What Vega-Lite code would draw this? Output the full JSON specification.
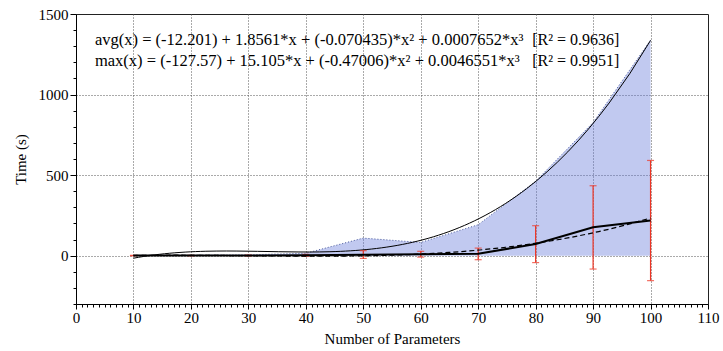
{
  "$schema": "https://vega.github.io/schema/vega-lite/v6.json",
  "width": 632,
  "height": 290,
  "autosize": "none",
  "padding": {"left": 76, "top": 14, "right": 15, "bottom": 47},
  "background": "white",
  "config": {
    "view": {"stroke": "#222", "strokeWidth": 1},
    "font": "Liberation Serif",
    "axis": {
      "labelFont": "Liberation Serif",
      "titleFont": "Liberation Serif",
      "labelFontSize": 15,
      "titleFontSize": 15,
      "labelColor": "black",
      "titleColor": "black",
      "titleFontWeight": "normal",
      "domainColor": "black",
      "tickColor": "black",
      "gridColor": "#555",
      "gridDash": [1, 2],
      "gridWidth": 1,
      "labelOverlap": false,
      "labelBound": false,
      "labelFlush": false
    }
  },
  "data": {
    "values": [
      {"params": 10, "avg": 0.3, "lo": -1, "hi": 2, "max": 2},
      {"params": 20, "avg": 0.5, "lo": -1.5, "hi": 2.5, "max": 3},
      {"params": 30, "avg": 1, "lo": -2, "hi": 4, "max": 5},
      {"params": 40, "avg": 2, "lo": -4, "hi": 8, "max": 15},
      {"params": 50, "avg": 5, "lo": -17, "hi": 31, "max": 109},
      {"params": 60, "avg": 9, "lo": -9, "hi": 27, "max": 82},
      {"params": 70, "avg": 12, "lo": -25, "hi": 47, "max": 192},
      {"params": 80, "avg": 72, "lo": -43, "hi": 186, "max": 462},
      {"params": 90, "avg": 176, "lo": -83, "hi": 434, "max": 826},
      {"params": 100, "avg": 218, "lo": -155, "hi": 591, "max": 1338}
    ]
  },
  "encoding": {
    "x": {
      "field": "params",
      "type": "quantitative",
      "scale": {"domain": [0, 110], "nice": false},
      "axis": {
        "title": "Number of Parameters",
        "titleY": 34,
        "titleBaseline": "middle",
        "values": [0,1,2,3,4,5,6,7,8,9,10,11,12,13,14,15,16,17,18,19,20,21,22,23,24,25,26,27,28,29,30,31,32,33,34,35,36,37,38,39,40,41,42,43,44,45,46,47,48,49,50,51,52,53,54,55,56,57,58,59,60,61,62,63,64,65,66,67,68,69,70,71,72,73,74,75,76,77,78,79,80,81,82,83,84,85,86,87,88,89,90,91,92,93,94,95,96,97,98,99,100,101,102,103,104,105,106,107,108,109,110],
        "labelExpr": "datum.value % 10 === 0 ? datum.label : ''",
        "labelOverlap": false,
        "tickSize": {"condition": {"test": "datum.value % 10 === 0", "value": 5}, "value": 3},
        "labelPadding": 1,
        "gridOpacity": {"condition": {"test": "datum.value % 10 === 0 && datum.value > 0 && datum.value < 110", "value": 1}, "value": 0}
      }
    },
    "y": {
      "field": "v",
      "type": "quantitative",
      "scale": {"domain": [-300, 1500], "nice": false, "zero": false},
      "axis": {
        "title": "Time (s)",
        "titleX": -56,
        "titleBaseline": "middle",
        "values": [-300,-200,-100,0,100,200,300,400,500,600,700,800,900,1000,1100,1200,1300,1400,1500],
        "format": "d",
        "labelOverlap": false,
        "labelExpr": "datum.value % 500 === 0 && datum.value >= 0 ? datum.label : ''",
        "tickSize": {"condition": {"test": "datum.value % 500 === 0", "value": 6}, "value": 3},
        "labelPadding": 2,
        "gridOpacity": {"condition": {"test": "datum.value % 500 === 0 && datum.value > -300 && datum.value < 1500", "value": 1}, "value": 0}
      }
    }
  },
  "layer": [
    {
      "transform": [{"fold": ["max"], "as": ["series", "v"]}],
      "mark": {"type": "area", "color": "#6478d9", "opacity": 0.4},
      "encoding": {"y2": {"datum": 0}}
    },
    {
      "transform": [{"fold": ["max"], "as": ["series", "v"]}],
      "mark": {"type": "line", "color": "#4a5a9a", "strokeWidth": 1, "strokeDash": [1, 2]}
    },
    {
      "transform": [
        {"fold": ["max"], "as": ["series", "v"]},
        {"regression": "v", "on": "params", "method": "poly", "order": 3, "extent": [10, 100]}
      ],
      "mark": {"type": "line", "color": "black", "strokeWidth": 1}
    },
    {
      "transform": [{"fold": ["lo"], "as": ["series", "v"]}],
      "mark": {"type": "rule", "color": "#ee3322", "strokeWidth": 1.2},
      "encoding": {"y2": {"field": "hi"}}
    },
    {
      "transform": [{"fold": ["lo", "hi"], "as": ["series", "v"]}],
      "mark": {"type": "tick", "orient": "horizontal", "color": "#ee3322", "thickness": 1.2, "size": 7}
    },
    {
      "transform": [{"fold": ["avg"], "as": ["series", "v"]}],
      "mark": {"type": "line", "color": "black", "strokeWidth": 2}
    },
    {
      "transform": [
        {"fold": ["avg"], "as": ["series", "v"]},
        {"regression": "v", "on": "params", "method": "poly", "order": 3, "extent": [10, 100]}
      ],
      "mark": {"type": "line", "color": "black", "strokeWidth": 1.2, "strokeDash": [5, 3]}
    },
    {
      "transform": [
        {"fold": ["avg"], "as": ["series", "v"]},
        {"filter": "datum.params == 10"}
      ],
      "mark": {
        "type": "text",
        "align": "left",
        "baseline": "middle",
        "font": "Liberation Serif",
        "fontSize": 16.5,
        "lineHeight": 21,
        "color": "black",
        "text": [
          "avg(x)  = (-12.201) + 1.8561*x + (-0.070435)*x² + 0.0007652*x³",
          "max(x) = (-127.57) + 15.105*x + (-0.47006)*x² + 0.0046551*x³"
        ]
      },
      "encoding": {
        "x": {"datum": 3.3},
        "y": {"datum": 1336}
      }
    },
    {
      "transform": [
        {"fold": ["avg"], "as": ["series", "v"]},
        {"filter": "datum.params == 10"}
      ],
      "mark": {
        "type": "text",
        "align": "left",
        "baseline": "middle",
        "font": "Liberation Serif",
        "fontSize": 16,
        "lineHeight": 21,
        "color": "black",
        "text": ["[R² = 0.9636]", "[R² = 0.9951]"]
      },
      "encoding": {
        "x": {"datum": 79.4},
        "y": {"datum": 1336}
      }
    }
  ]
}
